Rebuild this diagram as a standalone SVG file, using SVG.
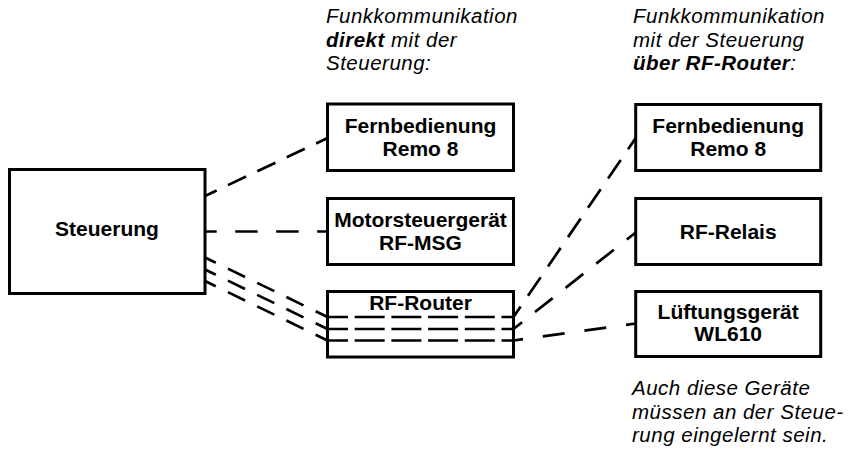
<svg xmlns="http://www.w3.org/2000/svg" width="854" height="454" viewBox="0 0 854 454">
<style>
.box{fill:#fff;stroke:#000;stroke-width:3}
.lbl{font-family:"Liberation Sans",Arial,sans-serif;font-weight:bold;font-size:21px;text-anchor:middle;fill:#000}
.note{font-family:"Liberation Sans",Arial,sans-serif;font-style:italic;font-size:20.5px;letter-spacing:0.5px;fill:#000}
.b{font-weight:bold}
.c{fill:none;stroke:#000;stroke-width:2.7}
</style>
<rect width="854" height="454" fill="#fff"/>
<g id="connectors">
<line class="c" x1="205" y1="196" x2="327.5" y2="138" stroke-dasharray="20 12.5" stroke-dashoffset="7.1"/>
<line class="c" x1="205" y1="231.5" x2="327.5" y2="231.5" stroke-dasharray="22.5 18.5" stroke-dashoffset="10.8"/>
<line class="c" x1="205" y1="257.5" x2="327.5" y2="317" stroke-dasharray="19 13.5" stroke-dashoffset="7"/>
<line class="c" x1="205" y1="269.5" x2="327.5" y2="329" stroke-dasharray="19 13.5" stroke-dashoffset="7"/>
<line class="c" x1="205" y1="281" x2="327.5" y2="340.5" stroke-dasharray="19 13.5" stroke-dashoffset="7"/>
<line class="c" x1="513.5" y1="317" x2="635.7" y2="138" stroke-dasharray="22.5 13" stroke-dashoffset="9.8"/>
<line class="c" x1="513.5" y1="329" x2="635.7" y2="232.5" stroke-dasharray="22.5 16.5" stroke-dashoffset="11.6"/>
<line class="c" x1="513.5" y1="340.5" x2="635.7" y2="323.5" stroke-dasharray="22 20" stroke-dashoffset="12.4"/>
</g>
<g id="steuerung">
<rect class="box" x="9.5" y="169.5" width="195.5" height="124"/>
<text class="lbl" x="107" y="236">Steuerung</text>
</g>
<g id="fernbedienung1">
<rect class="box" x="327.5" y="104" width="186" height="66.5"/>
<text class="lbl" x="420.5" y="133">Fernbedienung</text>
<text class="lbl" x="420.5" y="155.5">Remo 8</text>
</g>
<g id="motorsteuergeraet">
<rect class="box" x="327.5" y="198.5" width="186" height="66"/>
<text class="lbl" x="420.5" y="227">Motorsteuergerät</text>
<text class="lbl" x="420.5" y="249.5">RF-MSG</text>
</g>
<g id="rfrouter">
<rect class="box" x="327.5" y="291.5" width="186" height="65.5"/>
<text class="lbl" x="420.5" y="310">RF-Router</text>
<g fill="none" stroke="#000" stroke-width="2.7" stroke-dasharray="30 6.7" stroke-dashoffset="9.5">
<line x1="327.5" y1="317" x2="513.5" y2="317"/>
<line x1="327.5" y1="329" x2="513.5" y2="329"/>
<line x1="327.5" y1="340.5" x2="513.5" y2="340.5"/>
</g>
</g>
<g id="fernbedienung2">
<rect class="box" x="635.7" y="104.5" width="185" height="66"/>
<text class="lbl" x="728.2" y="133">Fernbedienung</text>
<text class="lbl" x="728.2" y="155.5">Remo 8</text>
</g>
<g id="rfrelais">
<rect class="box" x="635.7" y="198.5" width="185" height="66"/>
<text class="lbl" x="728.2" y="238.5">RF-Relais</text>
</g>
<g id="lueftungsgeraet">
<rect class="box" x="635.7" y="291.5" width="185" height="65"/>
<text class="lbl" x="728.2" y="318.5">Lüftungsgerät</text>
<text class="lbl" x="728.2" y="340.5">WL610</text>
</g>
<g id="note-left">
<text class="note" x="326" y="23">Funkkommunikation</text>
<text class="note" x="326" y="46.5"><tspan class="b">direkt</tspan> mit der</text>
<text class="note" x="326" y="70">Steuerung:</text>
</g>
<g id="note-right">
<text class="note" x="633" y="23">Funkkommunikation</text>
<text class="note" x="633" y="46.5">mit der Steuerung</text>
<text class="note" x="633" y="70"><tspan class="b">über RF-Router</tspan>:</text>
</g>
<g id="note-bottom">
<text class="note" x="632" y="395">Auch diese Geräte</text>
<text class="note" x="632" y="418.5">müssen an der Steue-</text>
<text class="note" x="632" y="442">rung eingelernt sein.</text>
</g>
</svg>
